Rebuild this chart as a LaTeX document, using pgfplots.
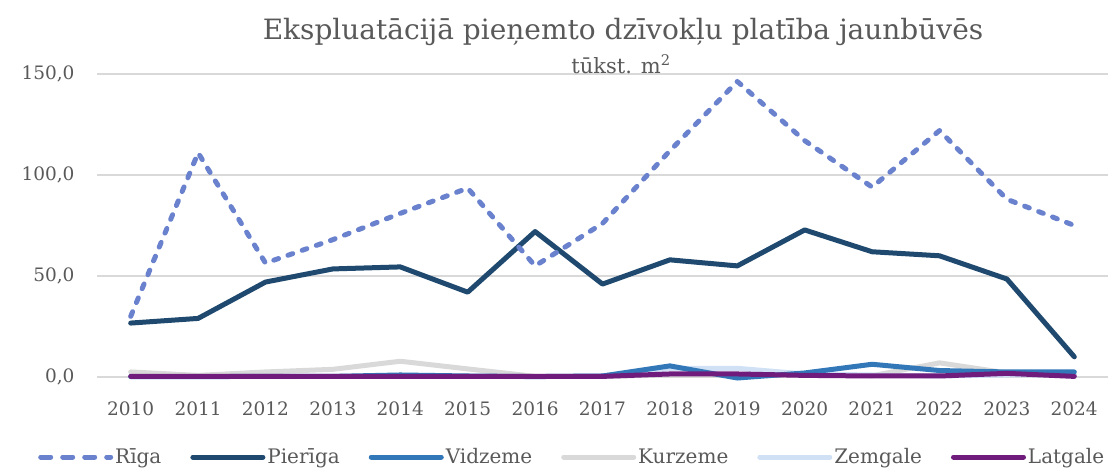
\documentclass[border=0pt]{standalone}
\usepackage{pgfplots}
\pgfplotsset{compat=1.18}
\usepackage{fontspec}
\setmainfont{DejaVu Serif}
\definecolor{riga}{RGB}{106,130,206}
\definecolor{pieriga}{RGB}{31,73,110}
\definecolor{vidzeme}{RGB}{50,120,184}
\definecolor{kurzeme}{RGB}{217,217,217}
\definecolor{zemgale}{RGB}{208,224,245}
\definecolor{latgale}{RGB}{112,28,124}
\definecolor{txt}{RGB}{89,89,89}
\definecolor{gridc}{RGB}{217,217,217}
\begin{document}
\begin{tikzpicture}[x=1pt,y=1pt]
\useasboundingbox (0,0) rectangle (1108,468);
\begin{axis}[
  at={(97pt,91pt)}, anchor=south west,
  scale only axis, width=1011pt, height=303pt,
  xmin=2009.5, xmax=2024.5, ymin=0, ymax=150,
  clip=false,
  axis line style={draw=none},
  xtick={2010,...,2024},
  xticklabel style={/pgf/number format/1000 sep={}, yshift=-21pt},
  ytick={0,50,100,150},
  yticklabel style={/pgf/number format/fixed, /pgf/number format/fixed zerofill, /pgf/number format/precision=1, /pgf/number format/use comma, xshift=-19pt},
  /pgf/number format/assume math mode=true,
  xmajorgrids=false, ymajorgrids=true, grid style={draw=gridc, line width=1.6pt},
  xtick style={draw=none}, ytick style={draw=none},
  major tick length=0pt,
  tick label style={font=\fontsize{18.5}{21}\selectfont, text=txt},
  legend style={draw=none, fill=none, at={(-62pt,-79pt)}, anchor=west,
    font=\fontsize{20}{22}\selectfont, text=txt, legend columns=6,
    nodes={inner sep=2pt},
    /tikz/every even column/.append style={column sep=27pt}},
  legend image code/.code={\draw[#1] (0pt,0pt) -- (70pt,0pt);},
  every axis plot/.append style={line width=5pt, line join=round, line cap=round},
]
\addplot[kurzeme, forget plot] coordinates {(2010,2.5)(2011,0.8)(2012,2.5)(2013,3.8)(2014,7.8)(2015,4.0)(2016,0.3)(2017,0.3)(2018,1.0)(2019,1.2)(2020,1.0)(2021,0.6)(2022,7.0)(2023,2.0)(2024,1.0)};
\addplot[zemgale, forget plot] coordinates {(2010,0.2)(2011,0.2)(2012,0.2)(2013,0.3)(2014,0.3)(2015,0.3)(2016,0.2)(2017,0.5)(2018,4.2)(2019,4.3)(2020,1.5)(2021,1.0)(2022,0.5)(2023,1.0)(2024,1.0)};
\addplot[vidzeme, forget plot] coordinates {(2010,0.2)(2011,0.2)(2012,0.3)(2013,0.3)(2014,1.0)(2015,0.5)(2016,0.2)(2017,0.5)(2018,5.5)(2019,-0.5)(2020,2.0)(2021,6.3)(2022,3.2)(2023,2.5)(2024,2.5)};
\addplot[latgale, forget plot] coordinates {(2010,0.3)(2011,0.3)(2012,0.3)(2013,0.3)(2014,0.3)(2015,0.3)(2016,0.3)(2017,0.3)(2018,1.5)(2019,1.5)(2020,0.8)(2021,0.5)(2022,0.5)(2023,1.8)(2024,0.3)};
\addplot[pieriga, forget plot] coordinates {(2010,26.7)(2011,29)(2012,47)(2013,53.5)(2014,54.5)(2015,42)(2016,72)(2017,46)(2018,58)(2019,55)(2020,72.8)(2021,62)(2022,60)(2023,48.5)(2024,10)};
\addplot[riga, dash pattern=on 5pt off 10pt, forget plot] coordinates {(2010,30)(2011,111)(2012,56.4)(2013,68)(2014,81)(2015,93.5)(2016,55)(2017,76)(2018,112)(2019,146.3)(2020,117)(2021,94)(2022,122)(2023,88)(2024,75)};
\addlegendimage{riga, line width=5pt, line cap=round, dash pattern=on 10pt off 12pt}
\addlegendentry{Rīga}
\addlegendimage{pieriga, line width=5pt, line cap=round}
\addlegendentry{Pierīga}
\addlegendimage{vidzeme, line width=5pt, line cap=round}
\addlegendentry{Vidzeme}
\addlegendimage{kurzeme, line width=5pt, line cap=round}
\addlegendentry{Kurzeme}
\addlegendimage{zemgale, line width=5pt, line cap=round}
\addlegendentry{Zemgale}
\addlegendimage{latgale, line width=5pt, line cap=round}
\addlegendentry{Latgale}
\end{axis}
\node[text=txt, font=\fontsize{28}{32}\selectfont] at (623,436) {Ekspluatācijā pieņemto dzīvokļu platība jaunbūvēs};
\node[text=txt, font=\fontsize{21}{24}\selectfont] at (621,404) {tūkst. m\textsuperscript{2}};
\end{tikzpicture}
\end{document}
